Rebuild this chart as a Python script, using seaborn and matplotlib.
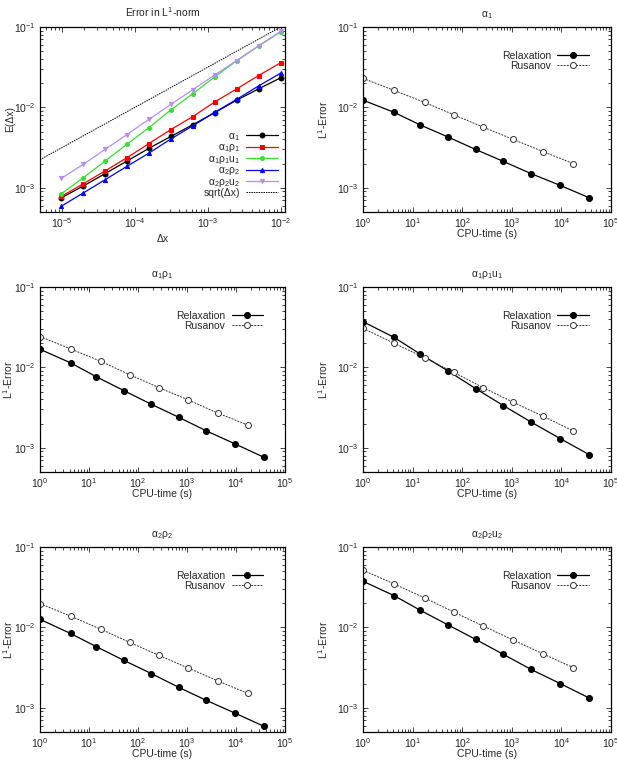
import numpy as np
import pandas as pd
import seaborn as sns
import matplotlib
matplotlib.use('Agg')
import matplotlib.pyplot as plt

# === 1. Datos ===
# Panel 1: error L1 vs dx
dx = [1.0e-2 / 2**k for k in range(11)][::-1]
err_a1 = [7.5e-4, 1.05e-3, 1.5e-3, 2.15e-3, 3.1e-3, 4.35e-3, 6.1e-3, 8.6e-3, 1.23e-2, 1.7e-2, 2.33e-2]
err_a1r1 = [7.8e-4, 1.12e-3, 1.62e-3, 2.37e-3, 3.55e-3, 5.3e-3, 7.7e-3, 1.17e-2, 1.7e-2, 2.49e-2, 3.58e-2]
err_a1r1u1 = [8.4e-4, 1.33e-3, 2.15e-3, 3.48e-3, 5.6e-3, 9.3e-3, 1.48e-2, 2.4e-2, 3.8e-2, 5.8e-2, 8.7e-2]
err_a2r2 = [5.9e-4, 8.6e-4, 1.26e-3, 1.85e-3, 2.7e-3, 4.05e-3, 5.9e-3, 8.7e-3, 1.26e-2, 1.85e-2, 2.66e-2]
err_a2r2u2 = [1.31e-3, 1.95e-3, 3.0e-3, 4.6e-3, 7.1e-3, 1.09e-2, 1.66e-2, 2.53e-2, 3.83e-2, 5.85e-2, 8.8e-2]
sqrt_x = np.array([5e-6, 1.15e-2])

# Paneles CPU-time
cpu_relax = [1, 4.2, 14.1, 51, 186, 676, 2450, 9500, 36700]
cpu_rus = [1, 4.2, 17.4, 68, 265, 1050, 4260, 17400]

relax_a1 = [1.23e-2, 8.7e-3, 6.07e-3, 4.3e-3, 3.0e-3, 2.13e-3, 1.5e-3, 1.07e-3, 7.5e-4]
rus_a1 = [2.3e-2, 1.63e-2, 1.155e-2, 8.1e-3, 5.68e-3, 4.02e-3, 2.82e-3, 2.0e-3]
relax_a1r1 = [1.68e-2, 1.14e-2, 7.65e-3, 5.16e-3, 3.48e-3, 2.4e-3, 1.63e-3, 1.12e-3, 7.65e-4]
rus_a1r1 = [2.42e-2, 1.7e-2, 1.19e-2, 8.1e-3, 5.62e-3, 3.95e-3, 2.7e-3, 1.92e-3]
relax_a1r1u1 = [3.7e-2, 2.37e-2, 1.47e-2, 9.1e-3, 5.46e-3, 3.35e-3, 2.09e-3, 1.3e-3, 8.2e-4]
rus_a1r1u1 = [3.07e-2, 2.0e-2, 1.32e-2, 8.65e-3, 5.6e-3, 3.7e-3, 2.47e-3, 1.62e-3]
relax_a2r2 = [1.26e-2, 8.4e-3, 5.76e-3, 3.9e-3, 2.67e-3, 1.8e-3, 1.24e-3, 8.6e-4, 5.9e-4]
rus_a2r2 = [1.98e-2, 1.38e-2, 9.5e-3, 6.5e-3, 4.5e-3, 3.13e-3, 2.16e-3, 1.51e-3]
relax_a2r2u2 = [3.75e-2, 2.49e-2, 1.64e-2, 1.08e-2, 7.1e-3, 4.62e-3, 3.0e-3, 2.0e-3, 1.32e-3]
rus_a2r2u2 = [5.14e-2, 3.48e-2, 2.33e-2, 1.55e-2, 1.04e-2, 7.0e-3, 4.68e-3, 3.16e-3]

lbl_a1 = r'α$_1$'
lbl_a1r1 = r'α$_1$ρ$_1$'
lbl_a1r1u1 = r'α$_1$ρ$_1$u$_1$'
lbl_a2r2 = r'α$_2$ρ$_2$'
lbl_a2r2u2 = r'α$_2$ρ$_2$u$_2$'

# === 2. Estilo ===
sns.set_style('ticks')
plt.rcParams['font.family'] = ['Liberation Sans', 'DejaVu Sans']
plt.rcParams['mathtext.fontset'] = 'custom'
plt.rcParams['mathtext.rm'] = 'Liberation Sans'
plt.rcParams['mathtext.it'] = 'Liberation Sans:italic'
plt.rcParams['mathtext.default'] = 'regular'
FS = 7.5

W, H = 617, 771
fig = plt.figure(figsize=(W / 100, H / 100), dpi=100)


def make_ax(left, top, right, bottom):
    return fig.add_axes([left / W, 1 - bottom / H, (right - left) / W, (bottom - top) / H])


def style_ax(ax):
    ax.set_xscale('log')
    ax.set_yscale('log')
    ax.tick_params(which='both', direction='in', top=True, right=True, labelsize=FS, width=0.6)
    ax.tick_params(which='major', length=3.5, pad=3)
    ax.tick_params(which='minor', length=2)
    for s in ax.spines.values():
        s.set_linewidth(0.9)
        s.set_color('black')
    ax.set_ylim(5e-4, 1e-1)


# === 3. Panel 1 ===
ax0 = make_ax(40, 27, 285, 212)
style_ax(ax0)
series = [
    (err_a1, lbl_a1, 'black', 'o', 3.5),
    (err_a1r1, lbl_a1r1, 'red', 's', 3.5),
    (err_a1r1u1, lbl_a1r1u1, '#33e033', 'o', 2.8),
    (err_a2r2, lbl_a2r2, 'blue', '^', 3.0),
    (err_a2r2u2, lbl_a2r2u2, '#b98cf5', 'v', 3.0),
]
for vals, lbl, col, mk, ms in series:
    sns.lineplot(x=dx, y=vals, ax=ax0, color=col, marker=mk, markersize=ms,
                 markeredgecolor=col, linewidth=0.9, label=lbl)
sns.lineplot(x=sqrt_x, y=np.sqrt(sqrt_x), ax=ax0, color='black', linewidth=0.7,
             linestyle=(0, (1.5, 1.0)), label=r'sqrt(Δx)')
ax0.set_xlim(5e-6, 1.15e-2)
ax0.set_title(r'Error in L$^1$-norm', fontsize=FS, pad=7)
ax0.set_xlabel('Δx', fontsize=FS, labelpad=3)
ax0.set_ylabel('E(Δx)', fontsize=FS)
ax0.yaxis.set_label_coords(-0.10, 0.5)
ax0.legend(loc='lower right', bbox_to_anchor=(0.97, 0.075), frameon=False, fontsize=FS,
           markerfirst=False, handlelength=3.0, handletextpad=0.6, labelspacing=-0.05,
           borderpad=0, borderaxespad=0)

# === 4. Paneles CPU ===
panels = [
    (lbl_a1, relax_a1, rus_a1, (363, 27, 611, 212)),
    (lbl_a1r1, relax_a1r1, rus_a1r1, (40, 287, 285, 472)),
    (lbl_a1r1u1, relax_a1r1u1, rus_a1r1u1, (363, 287, 611, 472)),
    (lbl_a2r2, relax_a2r2, rus_a2r2, (40, 547, 285, 732)),
    (lbl_a2r2u2, relax_a2r2u2, rus_a2r2u2, (363, 547, 611, 732)),
]
for title, rel, rus, box in panels:
    ax = make_ax(*box)
    style_ax(ax)
    sns.lineplot(x=cpu_relax, y=rel, ax=ax, color='black', marker='o', markersize=4.3,
                 markeredgecolor='black', linewidth=0.9, label='Relaxation')
    sns.lineplot(x=cpu_rus, y=rus, ax=ax, color='#333333', marker='o', markersize=4.3,
                 markerfacecolor='white', markeredgecolor='#333333', markeredgewidth=0.7,
                 linewidth=0.7, linestyle=(0, (2.0, 1.2)), label='Rusanov')
    ax.set_xlim(1, 1e5)
    ax.set_title(title, fontsize=FS, pad=7)
    ax.set_xlabel('CPU-time (s)', fontsize=FS, labelpad=-1)
    ax.set_ylabel(r'L$^1$-Error', fontsize=FS)
    lx = -0.10 if box[0] < 100 else -0.133
    ax.yaxis.set_label_coords(lx, 0.5)
    ax.legend(loc='upper right', bbox_to_anchor=(0.91, 0.87), frameon=False, fontsize=FS,
              markerfirst=False, handlelength=3.0, handletextpad=0.6, labelspacing=-0.05,
              borderpad=0, borderaxespad=0)

fig.savefig('out.png', dpi=100)
